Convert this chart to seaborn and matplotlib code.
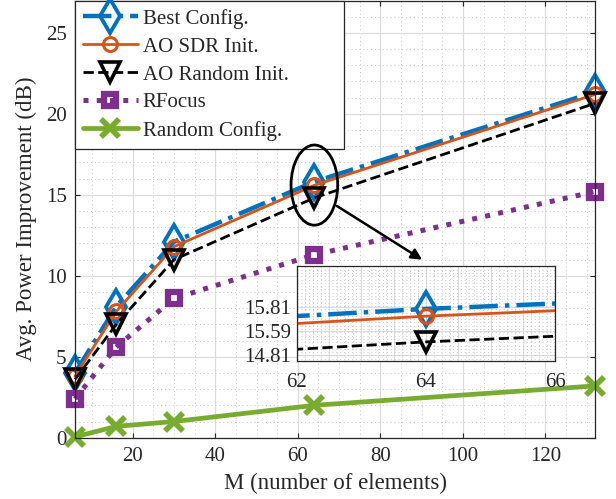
import numpy as np
import pandas as pd
import matplotlib
matplotlib.use('Agg')
import matplotlib.pyplot as plt
from matplotlib.patches import Ellipse
from matplotlib.ticker import MultipleLocator, FixedLocator
import seaborn as sns

# Data
M = [6, 16, 30, 64, 132]
best_config = [4.0, 8.1, 12.1, 15.81, 21.35]
ao_sdr_init = [3.8, 7.8, 11.8, 15.59, 21.2]
ao_random_init = [3.6, 7.0, 11.0, 14.81, 20.65]
rfocus = [2.4, 5.6, 8.6, 11.3, 15.2]
random_config = [0.05, 0.7, 1.0, 2.0, 3.2]

labels = ['Best Config.', 'AO SDR Init.', 'AO Random Init.', 'RFocus', 'Random Config.']
inset_ticklabels = ['14.81', '15.59', '15.81']

styles = [
    dict(color='#0072BD', ls='-.', lw=3.2, marker='d', ms=17, mfc='none', mew=2.8),
    dict(color='#D95319', ls='-', lw=2.0, marker='o', ms=10, mfc='none', mew=2.2),
    dict(color='black', ls='--', lw=2.0, marker='v', ms=14, mfc='none', mew=2.6),
    dict(color='#7E2F8E', ls=':', lw=3.6, marker='s', ms=8, mfc='none', mew=4.5),
    dict(color='#77AC30', ls='-', lw=3.4, marker='x', ms=13, mfc='none', mew=4),
]
series = [best_config, ao_sdr_init, ao_random_init, rfocus, random_config]

sns.set_style('ticks')
plt.rcParams['font.family'] = ['Liberation Serif', 'DejaVu Serif']
TXT = '#262626'
TICK_FS = 15


def style_axes(ax):
    ax.tick_params(which='both', direction='in', top=True, right=True,
                   colors=TXT, labelsize=TICK_FS, width=0.8)
    ax.tick_params(which='minor', length=0)
    ax.grid(which='major', color='#dcdcdc', lw=0.9, ls='-')
    ax.grid(which='minor', color='#c8c8c8', lw=0.7, ls=(0, (1, 3)))
    ax.set_axisbelow(True)
    for s in ax.spines.values():
        s.set_color(TXT)
        s.set_linewidth(0.9)


def draw(ax, legend=True, clip=False):
    for lab, vals, st in zip(labels, series, styles):
        df = pd.DataFrame({'M': M, 'val': vals})
        st = dict(st)
        sns.lineplot(data=df, x='M', y='val', ax=ax, color=st.pop('color'),
                     linestyle=st.pop('ls'), linewidth=st.pop('lw'),
                     label=lab if legend else None, clip_on=clip, **st)
        line = ax.lines[-1]
        line.set_markeredgecolor(line.get_color())


fig = plt.figure(figsize=(6.16, 4.99), dpi=100)
ax = fig.add_axes([75 / 616, 1 - 437.7 / 499, (595 - 75) / 616, 437.2 / 499])
draw(ax)
ax.set_xlim(6, 132)
ax.set_ylim(0, 27)
ax.xaxis.set_major_locator(FixedLocator([20, 40, 60, 80, 100, 120]))
ax.xaxis.set_minor_locator(MultipleLocator(5))
ax.yaxis.set_major_locator(FixedLocator([0, 5, 10, 15, 20, 25]))
ax.yaxis.set_minor_locator(MultipleLocator(1))
style_axes(ax)
ax.tick_params(axis='x', which='major', pad=7)
ax.tick_params(axis='y', which='major', pad=6)
ax.set_xlabel('M (number of elements)', fontsize=16.5, color=TXT, labelpad=5)
ax.set_ylabel('Avg. Power Improvement (dB)', fontsize=16.5, color=TXT, labelpad=6)

leg = ax.legend(loc='upper left', bbox_to_anchor=(0.0, 0.0, (344 - 75) / 520, 1.0),
                mode='expand', fontsize=15,
                handlelength=2.6, labelspacing=0.4, borderpad=0.4,
                handletextpad=0.25, fancybox=False, framealpha=1,
                edgecolor=TXT, borderaxespad=0.0)
leg.get_frame().set_linewidth(0.9)

# zoom ellipse and arrow
ax.add_patch(Ellipse((64, 15.6), 11.3, 4.95, fill=False, ec='black', lw=2, zorder=6))
ax.annotate('', xy=(90.7, 10.9), xytext=(68.9, 14.4),
            arrowprops=dict(arrowstyle='-|>', color='black', lw=1.8,
                            mutation_scale=16), zorder=6)

# inset
axi = fig.add_axes([296.7 / 616, 1 - 360.7 / 499, (555.3 - 296.7) / 616, (360.7 - 266) / 499])
axi.set_facecolor('white')
draw(axi, legend=False, clip=True)
axi.set_xlim(62, 66)
axi.set_ylim(14.24, 17.11)
axi.set_xticks([62, 62.5, 63, 63.5, 64, 64.5, 65, 65.5, 66])
axi.set_xticklabels(['62', '', '', '', '64', '', '', '', '66'])
axi.xaxis.set_minor_locator(MultipleLocator(0.125))
axi.set_yticks([14.42, 15.14, 15.87])
axi.set_yticklabels(inset_ticklabels)
axi.yaxis.set_minor_locator(MultipleLocator(0.1))
style_axes(axi)
axi.tick_params(which='major', length=0)
axi.tick_params(axis='x', which='major', pad=9)
axi.tick_params(axis='y', which='major', pad=4)
axi.set_xlabel('')
axi.set_ylabel('')

fig.savefig('out.png', dpi=100)
